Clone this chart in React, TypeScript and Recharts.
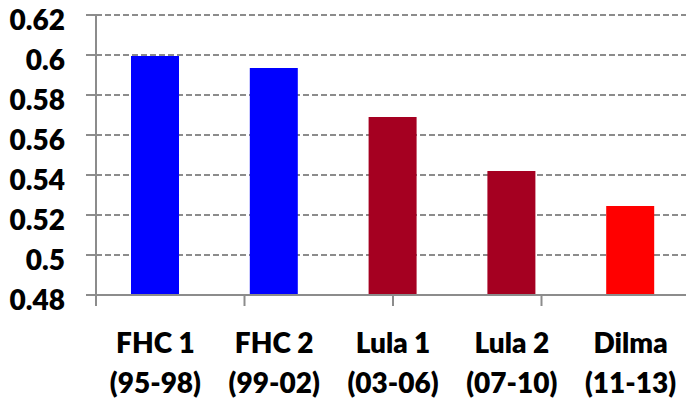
import { BarChart, Bar, XAxis, YAxis, CartesianGrid, Cell } from 'recharts';

const terms = ['FHC 1', 'FHC 2', 'Lula 1', 'Lula 2', 'Dilma'];
const periods = ['(95-98)', '(99-02)', '(03-06)', '(07-10)', '(11-13)'];
const values = [0.5995, 0.5935, 0.569, 0.542, 0.5245];
const barColors = ['#0000ff', '#0000ff', '#a50021', '#a50021', '#ff0000'];
const yTicks = [0.48, 0.5, 0.52, 0.54, 0.56, 0.58, 0.6, 0.62];
const edgeTicks = [0, 1, 2, 3, 4, 5];

const chartData = terms.map((term, i) => ({
  term,
  period: periods[i],
  value: values[i],
}));

const FONT = 'Lato, "Open Sans", sans-serif';
const AXIS_GRAY = '#8c8c8c';

const TermTick = (props: any) => {
  const { x, y, payload, index } = props;
  return (
    <text
      x={x}
      y={y}
      textAnchor="middle"
      fontFamily={FONT}
      fontWeight={800}
      fontSize={28}
      fill="#000"
    >
      <tspan x={x} dy={58}>{payload.value}</tspan>
      <tspan x={x} dy={40}>{periods[index]}</tspan>
    </text>
  );
};

const ValueTick = (props: any) => {
  const { x, y, payload } = props;
  return (
    <text
      x={x}
      y={y + 15}
      textAnchor="end"
      fontFamily={FONT}
      fontWeight={800}
      fontSize={28}
      fill="#000"
    >
      {String(payload.value)}
    </text>
  );
};

const App = () => {
  return (
    <div style={{ position: 'absolute', left: 0, top: 0, width: 686, height: 399, overflow: 'hidden', background: '#fff' }}>
      <BarChart
        width={700}
        height={399}
        data={chartData}
        margin={{ top: 15, right: 10, left: 0, bottom: 102 }}
      >
        <CartesianGrid
          vertical={false}
          stroke={AXIS_GRAY}
          strokeWidth={2}
          strokeDasharray="6 3"
          yAxisId="v"
          xAxisId="cat"
        />
        {/* boundary ticks between the categories */}
        <XAxis
          xAxisId="edges"
          type="number"
          domain={[0, 5]}
          ticks={edgeTicks}
          height={1}
          axisLine={false}
          tickLine={{ stroke: AXIS_GRAY, strokeWidth: 2 }}
          tickSize={10}
          tickFormatter={() => ''}
        />
        <XAxis
          xAxisId="cat"
          dataKey="term"
          height={1}
          axisLine={{ stroke: AXIS_GRAY, strokeWidth: 2 }}
          tickLine={false}
          tickSize={0}
          tickMargin={0}
          interval={0}
          tick={<TermTick />}
        />
        <YAxis
          yAxisId="v"
          width={96}
          domain={[0.48, 0.62]}
          ticks={yTicks}
          allowDataOverflow
          axisLine={{ stroke: AXIS_GRAY, strokeWidth: 2 }}
          tickLine={{ stroke: AXIS_GRAY, strokeWidth: 2 }}
          tickSize={10}
          tickMargin={21}
          tick={<ValueTick />}
        />
        <Bar
          xAxisId="cat"
          yAxisId="v"
          dataKey="value"
          barSize={48}
          isAnimationActive={false}
        >
          {chartData.map((entry, index) => (
            <Cell key={`cell-${entry.term}`} fill={barColors[index]} />
          ))}
        </Bar>
      </BarChart>
    </div>
  );
};

export default App;
